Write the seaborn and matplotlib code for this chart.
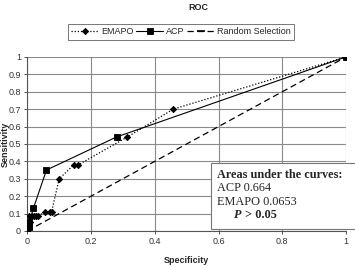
import seaborn as sns
import matplotlib.pyplot as plt
import matplotlib.patches as mpatches
from matplotlib.text import Annotation
import pandas as pd

# ROC points
emapo_spec = [0, 0.007, 0.004, 0.014, 0.02, 0.026, 0.035, 0.054, 0.07, 0.076, 0.10, 0.146, 0.16, 0.314, 0.458, 1]
emapo_sens = [0, 0.053, 0.085, 0.085, 0.085, 0.085, 0.085, 0.11, 0.11, 0.11, 0.30, 0.38, 0.38, 0.54, 0.70, 1]

acp_spec = [0, 0.004, 0.006, 0.019, 0.06, 0.28, 1]
acp_sens = [0, 0.02, 0.05, 0.13, 0.35, 0.54, 1]

rand_spec = [0, 1]
rand_sens = [0, 1]

df = pd.concat([
    pd.DataFrame({'Specificity': emapo_spec, 'Sensitivity': emapo_sens, 'Series': 'EMAPO'}),
    pd.DataFrame({'Specificity': acp_spec, 'Sensitivity': acp_sens, 'Series': 'ACP'}),
    pd.DataFrame({'Specificity': rand_spec, 'Sensitivity': rand_sens, 'Series': 'Random Selection'}),
])

sns.set_style("white")
plt.rcParams['font.family'] = ['Liberation Sans', 'DejaVu Sans']

fig = plt.figure(figsize=(3.55, 2.67), dpi=100)
ax = fig.add_axes([0.077, 0.135, 0.898, 0.652])

styles = {
    'EMAPO': dict(ls=(0, (1, 1.5)), marker='D', ms=3.2, lw=0.9),
    'ACP': dict(ls='-', marker='s', ms=4.5, lw=0.8),
    'Random Selection': dict(ls=(0, (5, 3)), marker='_', ms=6, lw=0.9),
}
for name, st in styles.items():
    sub = df[df['Series'] == name]
    sns.lineplot(data=sub, x='Specificity', y='Sensitivity', sort=False, ax=ax,
                 color='black', linestyle=st['ls'], linewidth=st['lw'],
                 marker=st['marker'], markersize=st['ms'], markeredgecolor='black',
                 markeredgewidth=0.6 if st['marker'] != '_' else 1.2,
                 label=name, zorder=3)

ax.set_xlim(0, 1)
ax.set_ylim(0, 1)
ax.set_xticks([0, 0.2, 0.4, 0.6, 0.8, 1])
ax.set_xticklabels(['0', '0.2', '0.4', '0.6', '0.8', '1'])
ax.set_yticks([i / 10 for i in range(11)])
ax.set_yticklabels(['0'] + [f'{i/10:g}' for i in range(1, 10)] + ['1'])
ax.grid(True, color='#8a8a8a', linewidth=0.8)
ax.tick_params(labelsize=6.5, colors='#333333', length=2.5, width=0.6, pad=2,
               direction='out', left=True, bottom=True)
for s in ['top', 'right']:
    ax.spines[s].set_visible(False)
for s in ['left', 'bottom']:
    ax.spines[s].set_color('#555555')
    ax.spines[s].set_linewidth(0.8)

ax.set_xlabel('Specificity', fontsize=6.5, fontweight='bold')
ax.set_ylabel('Sensitivity', fontsize=6.5, fontweight='bold')
ax.xaxis.set_label_coords(0.5, -0.145)
ax.yaxis.set_label_coords(-0.056, 0.5)

fig.text(198 / 355, 1 - 8 / 267, 'ROC', ha='center', va='center', fontsize=6.5, fontweight='bold')

handles, labels = ax.get_legend_handles_labels()
if ax.get_legend():
    ax.get_legend().remove()
leg = fig.legend(handles, labels, loc='center', bbox_to_anchor=(181 / 355, 1 - 32 / 267), ncol=3,
                 fontsize=6.5, frameon=True, fancybox=False, edgecolor='#555555',
                 handlelength=3.0, handletextpad=0.3, columnspacing=0.3,
                 borderpad=0.35, borderaxespad=0)
leg.get_frame().set_linewidth(0.7)

# annotation box (runs off the right edge like the original)
box = mpatches.Rectangle((211 / 355, 1 - 229 / 267), 0.6, 66 / 267, transform=fig.transFigure,
                         fc='white', ec='#777777', lw=0.8, zorder=4)
fig.patches.append(box)

serif = 'Liberation Serif'
lines = [('Areas under the curves:', 'bold'), ('ACP 0.664', 'normal'), ('EMAPO 0.0653', 'normal')]
for i, (t, w) in enumerate(lines):
    fig.text(217 / 355, 1 - (175 + 13.3 * i) / 267, t, ha='left', va='center',
             fontsize=8.8, fontweight=w, family=serif, zorder=5)
p_txt = fig.text(234 / 355, 1 - 215 / 267, 'P', ha='left', va='center', fontsize=8.8,
                 fontweight='bold', fontstyle='italic', family=serif, zorder=5)
rest = Annotation(' > 0.05', xy=(1, 0.5), xycoords=p_txt, ha='left', va='center',
                  fontsize=8.8, fontweight='bold', family=serif, zorder=6,
                  annotation_clip=False)
fig.add_artist(rest)

fig.savefig('out.png', dpi=100)
